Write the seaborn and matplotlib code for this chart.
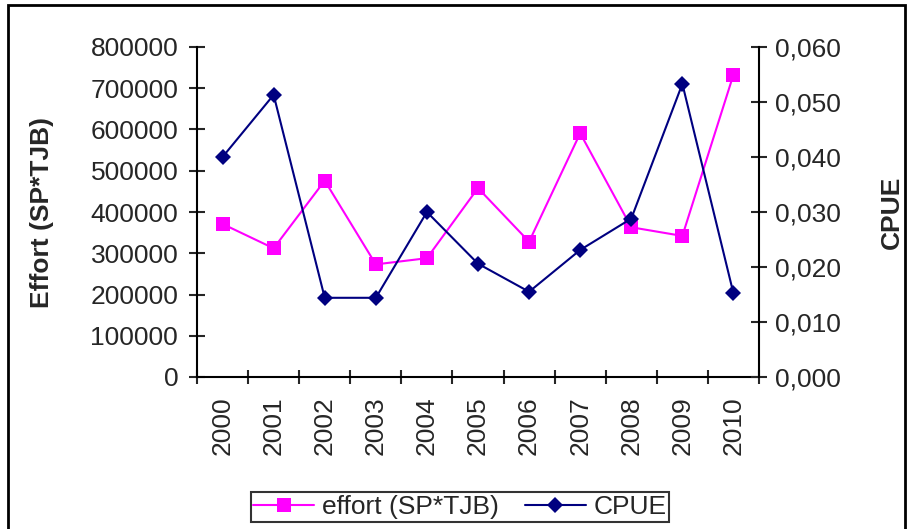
import matplotlib
matplotlib.use("Agg")
import matplotlib.pyplot as plt
from matplotlib.patches import Rectangle
from matplotlib.lines import Line2D
from matplotlib.ticker import FuncFormatter, FixedLocator
import seaborn as sns

# ================================
# 1. Data
# ================================

years = ["2000", "2001", "2002", "2003", "2004", "2005",
         "2006", "2007", "2008", "2009", "2010"]
effort = [371000, 312000, 476000, 273000, 288000, 458000,
          328000, 591000, 363000, 342000, 733000]
cpue = [0.0400, 0.0513, 0.0144, 0.0144, 0.0300, 0.0206,
        0.0155, 0.0231, 0.0288, 0.0533, 0.0152]

pos = list(range(len(years)))

# ================================
# 2. Style
# ================================

sns.set_style("white")
plt.rcParams["font.family"] = ["Liberation Sans", "DejaVu Sans"]
FS = 19

fig = plt.figure(figsize=(9.08, 5.29), dpi=100)
ax = fig.add_axes([197 / 908, 1 - 377 / 529, (759 - 197) / 908, (377 - 47) / 529])
ax2 = ax.twinx()

# ================================
# 3. Lines
# ================================

sns.lineplot(x=pos, y=effort, ax=ax, color="#FF00FF", marker="s",
             markersize=10, markeredgewidth=0, linewidth=1.5)
sns.lineplot(x=pos, y=cpue, ax=ax2, color="#000080", marker="D",
             markersize=8.5, markeredgewidth=0, linewidth=1.5)

# ================================
# 4. Axes
# ================================

ax.set_xlim(-0.5, len(years) - 0.5)
ax.set_ylim(0, 800000)
ax2.set_ylim(0, 0.060)

ax.set_yticks(range(0, 800001, 100000))
ax.yaxis.set_major_formatter(FuncFormatter(lambda v, p: f"{int(v)}"))
ax2.set_yticks([i * 0.01 for i in range(7)])
ax2.yaxis.set_major_formatter(FuncFormatter(lambda v, p: f"{v:.3f}".replace(".", ",")))

# year labels between tick marks (Excel category axis)
ax.set_xticks(pos)
ax.set_xticklabels(years, rotation=90, fontsize=FS)
ax.xaxis.set_minor_locator(FixedLocator([p - 0.5 for p in range(len(years) + 1)]))
ax.tick_params(axis="x", which="major", length=0, pad=14)
ax.tick_params(axis="x", which="minor", direction="inout", length=10, width=1.5, bottom=True)

ax.tick_params(axis="y", direction="inout", length=11, width=1.5, labelsize=FS, pad=8, left=True)
ax2.tick_params(axis="y", direction="inout", length=11, width=1.5, labelsize=FS, pad=6, right=True)

for a in (ax, ax2):
    for s in a.spines.values():
        s.set_linewidth(1.5)
        s.set_color("black")
    a.spines["top"].set_visible(False)
ax.spines["right"].set_visible(False)
ax2.spines["left"].set_visible(False)
ax2.spines["bottom"].set_visible(False)

ax.set_xlabel("")
ax.set_ylabel("Effort (SP*TJB)", fontsize=FS, fontweight="bold", labelpad=26)
ax2.set_ylabel("CPUE", fontsize=FS, fontweight="bold", labelpad=28)
ax.patch.set_visible(False)

# ================================
# 5. Legend
# ================================

handles = [
    Line2D([], [], color="#FF00FF", marker="s", markersize=10, markeredgewidth=0, linewidth=1.5),
    Line2D([], [], color="#000080", marker="D", markersize=8.5, markeredgewidth=0, linewidth=1.5),
]
leg = fig.legend(handles, ["effort (SP*TJB)", "CPUE"], loc="center",
                 bbox_to_anchor=(460 / 908, 1 - 507 / 529), ncol=2, fontsize=FS,
                 frameon=True, fancybox=False, handlelength=2.3, handletextpad=0.3,
                 columnspacing=1.0, borderpad=0.1, borderaxespad=0)
leg.get_frame().set_edgecolor("black")
leg.get_frame().set_linewidth(1.5)

# outer chart border
fig.patches.append(Rectangle((8 / 908, -0.05), (905 - 8) / 908, 1.05 - 5 / 529,
                             transform=fig.transFigure, fill=False,
                             edgecolor="black", linewidth=2))

fig.savefig("out.png", dpi=100)
